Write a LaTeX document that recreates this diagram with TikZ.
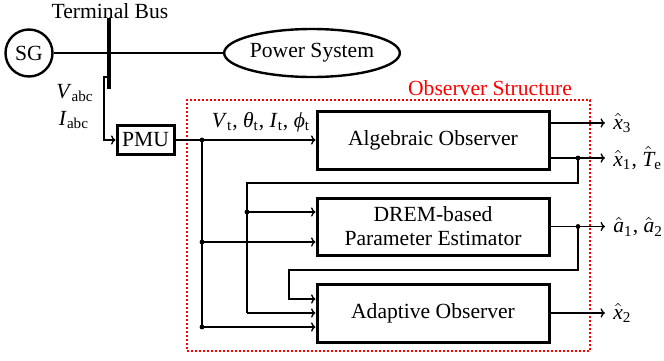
\documentclass[tikz,border=0pt]{standalone}
\usepackage{amsmath}
\usepackage{fontspec}
\setmainfont{Liberation Serif}
\usetikzlibrary{arrows.meta,shapes.geometric}
% italic symbol with an upright subscript, and italic symbol with a hat
\newcommand\sym[2]{\textit{#1}\textsubscript{#2}}
\newcommand\est[2]{$\hat{\text{\itshape #1}}$\textsubscript{#2}}

\begin{document}
\begin{tikzpicture}[x=0.5pt,y=-0.5pt,
  font=\fontsize{10.8}{13}\selectfont,
  wire/.style={line width=0.65pt},
  arr/.style={wire,-{To[length=2.2pt,width=4.6pt]}},
  blk/.style={draw,line width=1.5pt,align=center,inner sep=0pt},
  junc/.style={circle,fill,inner sep=0pt,minimum size=2.4pt},
]
\useasboundingbox (0,0) rectangle (664,360);

% observer frame
\node[draw=red,line width=0.75pt,dash pattern=on 1pt off 1pt,
      minimum width=201.5pt,minimum height=125.5pt,inner sep=0pt]
      (obs) at (388.5,225.5) {};
\node[text=red] (obslbl) at (490,88) {Observer Structure};

% grid side
\node[circle,draw,line width=1.2pt,minimum size=23.5pt,inner sep=0pt] (sg) at (29,53) {SG};
\node[ellipse,draw,line width=1.2pt,minimum width=87pt,minimum height=24pt,inner sep=0pt]
      (ps) at (312,53) {Power System};
\draw[wire] (sg.east) -- (ps.west);
\coordinate (bt) at (109,18);
\coordinate (bb) at (109,89);
\draw[line width=2.2pt] (bt) -- (bb);
\node (tb) at (110,11) {Terminal Bus};

% measurement unit
\node[blk,minimum width=28.5pt,minimum height=14.5pt] (pmu) at (145.5,140) {PMU};
\coordinate (tap) at (109,77);
\draw[arr] (tap) -- ++(-5,0) |- (pmu.west);
\node (vabc) at (75,93) {\sym{V}{abc}};
\node (iabc) at (74,120) {\sym{I}{abc}};

% observer blocks
\node[blk,minimum width=116pt,minimum height=29pt] (alg) at (433,140) {Algebraic Observer};
\node[blk,minimum width=116pt,minimum height=28.5pt] (drem) at (433,226.5)
      {DREM-based\\[-1pt]Parameter Estimator};
\node[blk,minimum width=116pt,minimum height=29pt] (ada) at (433,313) {Adaptive Observer};

% measured signals
\draw[arr] (pmu.east) -- (alg.west);
\node (meas) at (261,122) {\sym{V}{t}, \sym{θ}{t}, \sym{I}{t}, \sym{ϕ}{t}};
\coordinate (ja) at (202,140);
\coordinate (jb) at (202,242);
\coordinate (jc) at (202,327);
\draw[wire] (ja) -- (jc);
\draw[arr] (jb) -- (jb -| drem.west);
\draw[arr] (jc) -- (jc -| ada.west);
\node[junc] at (ja) {};
\node[junc] at (jb) {};
\node[junc] at (jc) {};

% outputs
\coordinate (o3) at (605,123);
\coordinate (o1) at (605,158);
\coordinate (oa) at (605,226.5);
\coordinate (o2) at (605,313);
\draw[arr] (o3 -| alg.east) -- (o3);
\draw[arr] (o1 -| alg.east) -- (o1);
\draw[arr] (drem.east) -- (oa);
\draw[arr] (ada.east) -- (o2);
\node[anchor=west,inner sep=4pt] (lx3) at (o3) {\est{x}{3}};
\node[anchor=west,inner sep=4pt] (lx1) at (o1) {\est{x}{1}, \est{T}{e}};
\node[anchor=west,inner sep=4pt] (la) at (oa) {\est{a}{1}, \est{a}{2}};
\node[anchor=west,inner sep=4pt] (lx2) at (o2) {\est{x}{2}};

% feedback of x1, Te
\coordinate (fa) at (578,158);
\coordinate (fak) at (578,183);
\coordinate (fb) at (247,212);
\coordinate (fbk) at (247,313);
\draw[wire] (fa) -- (fak) -| (fbk);
\draw[arr] (fb) -- (fb -| drem.west);
\draw[arr] (fbk) -- (ada.west);
\node[junc] at (fa) {};
\node[junc] at (fb) {};

% feedback of a1, a2
\coordinate (ga) at (578,226.5);
\coordinate (gak) at (578,270);
\coordinate (gbk) at (289,299);
\draw[arr] (ga) -- (gak) -| (gbk) -- (gbk -| ada.west);
\node[junc] at (ga) {};
\end{tikzpicture}
\end{document}
